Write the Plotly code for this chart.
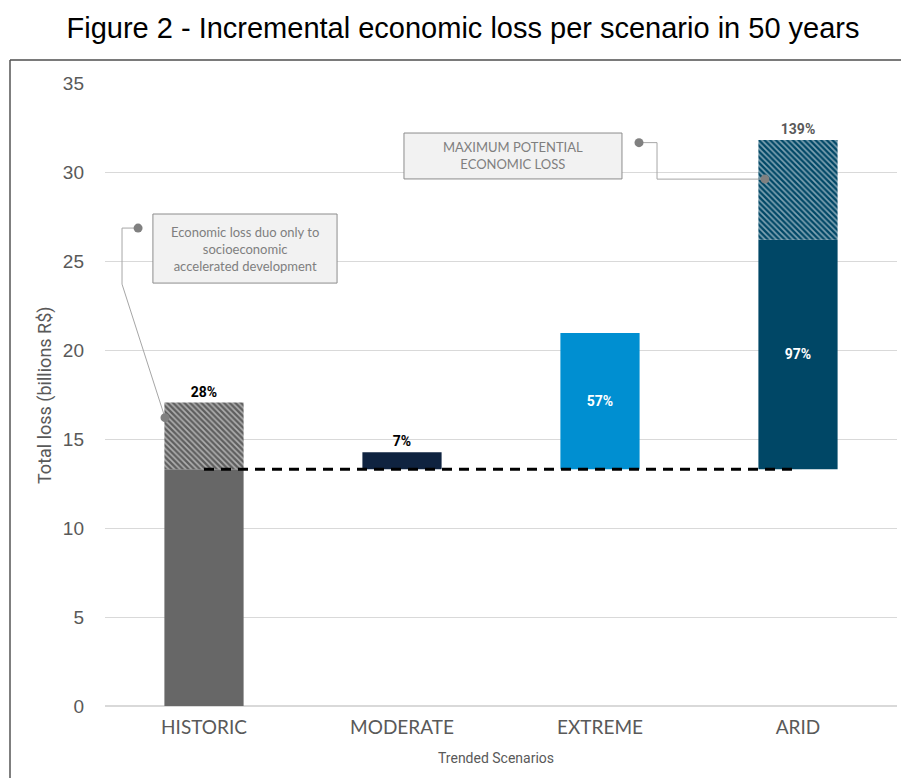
import plotly.graph_objects as go

# ---------------- data ----------------
categories = ["HISTORIC", "MODERATE", "EXTREME", "ARID"]
historic_loss = 13.3                       # baseline loss (billions R$)
scenario_tops = [17.05, 14.25, 20.95, 26.2]  # top of each scenario's main/incremental bar
arid_max = 31.8                            # maximum potential loss (ARID)
pct_labels = ["28%", "7%", "57%", "97%"]
arid_max_label = "139%"
y_ticks = [0, 5, 10, 15, 20, 25, 30, 35]

# ---------------- styling ----------------
W, H = 901, 778
L, R, T, B = 105, 4, 83, 72
GRAY_TXT = "#595959"
NARROW = "Liberation Sans Narrow, Arial Narrow, Roboto, Liberation Sans, sans-serif"
ARIAL = "Liberation Sans, Arial, sans-serif"
CAL = "Lato, Carlito, Calibri, sans-serif"

def px_x(p):
    return (p - L) / (W - L - R)

def px_y(p):
    return (H - B - p) / (H - T - B)

fig = go.Figure()

# main bars
solid_colors = ["#676767", "#0F2340", "#008FD1", "#004766"]
fig.add_trace(go.Bar(
    x=categories,
    base=[0, historic_loss, historic_loss, historic_loss],
    y=[historic_loss, scenario_tops[1] - historic_loss,
       scenario_tops[2] - historic_loss, scenario_tops[3] - historic_loss],
    width=0.4,
    marker=dict(color=solid_colors, line=dict(width=0)),
    text=["", "<b>" + pct_labels[1] + "</b>", "<b>" + pct_labels[2] + "</b>",
          "<b>" + pct_labels[3] + "</b>"],
    textposition=["none", "outside", "inside", "inside"],
    insidetextanchor="middle",
    outsidetextfont=dict(family=NARROW, size=14, color="black"),
    insidetextfont=dict(family=NARROW, size=14, color="white"),
    cliponaxis=False,
    hoverinfo="skip",
    showlegend=False,
))

# hatched bars
fig.add_trace(go.Bar(
    x=[categories[0], categories[3]],
    base=[historic_loss, scenario_tops[3]],
    y=[scenario_tops[0] - historic_loss, arid_max - scenario_tops[3]],
    width=0.4,
    marker=dict(color=["#5E5E5E", "#004766"], line=dict(width=0),
                pattern=dict(shape="\\", fgcolor="#FFFFFF", fillmode="overlay",
                             size=4, solidity=0.42)),
    text=["<b>" + pct_labels[0] + "</b>", "<b>" + arid_max_label + "</b>"],
    textposition="outside",
    outsidetextfont=dict(family=NARROW, size=14, color=["black", GRAY_TXT]),
    cliponaxis=False,
    hoverinfo="skip",
    showlegend=False,
))

# baseline dashed line
fig.add_trace(go.Scatter(
    x=[categories[0], categories[3]],
    y=[historic_loss, historic_loss],
    mode="lines",
    line=dict(color="black", width=3, dash="10px,7px"),
    hoverinfo="skip",
    showlegend=False,
))

shapes = []
annotations = []

# border (top and left)
shapes.append(dict(type="line", xref="paper", yref="paper",
                   x0=px_x(10), x1=px_x(905), y0=px_y(60), y1=px_y(60),
                   line=dict(color="#7A7A7A", width=2)))
shapes.append(dict(type="line", xref="paper", yref="paper",
                   x0=px_x(10), x1=px_x(10), y0=px_y(60), y1=px_y(782),
                   line=dict(color="#555555", width=1.5)))

# callout 1 (data coords: x category index, y value)
LINEC = "#A6A6A6"
DOTC = "#808080"
c1 = [(-0.333, 26.85), (-0.414, 26.85), (-0.414, 23.7), (-0.197, 16.2)]
for (xa, ya), (xb, yb) in zip(c1[:-1], c1[1:]):
    shapes.append(dict(type="line", xref="x", yref="y", x0=xa, y0=ya, x1=xb, y1=yb,
                       line=dict(color=LINEC, width=1)))
# callout 2
c2 = [(2.197, 31.65), (2.288, 31.65), (2.288, 29.6), (2.833, 29.6)]
for (xa, ya), (xb, yb) in zip(c2[:-1], c2[1:]):
    shapes.append(dict(type="line", xref="x", yref="y", x0=xa, y0=ya, x1=xb, y1=yb,
                       line=dict(color=LINEC, width=1)))

# callout boxes
shapes.append(dict(type="rect", xref="x", yref="y", x0=-0.258, x1=0.672, y0=23.76, y1=27.64,
                   fillcolor="#F2F2F2", line=dict(color="#8C8C8C", width=1)))
shapes.append(dict(type="rect", xref="x", yref="y", x0=1.01, x1=2.111, y0=29.61, y1=32.19,
                   fillcolor="#F2F2F2", line=dict(color="#8C8C8C", width=1)))

# callout end dots (pixel-sized circles anchored at data points)
for (xd, yd) in [c1[0], c1[-1], c2[0], c2[-1]]:
    shapes.append(dict(type="circle", xref="x", yref="y",
                       xsizemode="pixel", ysizemode="pixel",
                       xanchor=xd, yanchor=yd, x0=-4.5, x1=4.5, y0=-4.5, y1=4.5,
                       fillcolor=DOTC, line=dict(width=0)))

annotations.append(dict(xref="x", yref="y", x=0.207, y=25.7,
                        text="Economic loss duo only to<br>socioeconomic<br>accelerated development",
                        showarrow=False, font=dict(family=CAL, size=13, color="#7F7F7F"),
                        align="center", xanchor="center", yanchor="middle"))
annotations.append(dict(xref="x", yref="y", x=1.56, y=30.9,
                        text="MAXIMUM POTENTIAL<br>ECONOMIC LOSS",
                        showarrow=False, font=dict(family=CAL, size=13, color="#7F7F7F"),
                        align="center", xanchor="center", yanchor="middle"))

# axis titles
annotations.append(dict(xref="paper", yref="paper", x=px_x(45), y=px_y(395),
                        xanchor="center", yanchor="middle",
                        text="Total loss (billions R$)", textangle=-90, showarrow=False,
                        font=dict(family=NARROW, size=18, color=GRAY_TXT)))
annotations.append(dict(xref="paper", yref="paper", x=px_x(496), y=px_y(758),
                        xanchor="center", yanchor="middle",
                        text="Trended Scenarios", showarrow=False,
                        font=dict(family=NARROW, size=14, color=GRAY_TXT)))

fig.update_layout(
    width=W, height=H,
    margin=dict(l=L, r=R, t=T, b=B),
    paper_bgcolor="white", plot_bgcolor="white",
    barmode="overlay",
    bargap=0.6,
    title=dict(text="Figure 2 - Incremental economic loss per scenario in 50 years",
               x=463 / W, xanchor="center", y=1 - 28 / H, yanchor="middle",
               font=dict(family=ARIAL, size=29, color="black")),
    shapes=shapes,
    annotations=annotations,
    xaxis=dict(type="category", categoryorder="array", categoryarray=categories,
               range=[-0.5, 3.5], showgrid=False, showline=False, zeroline=False,
               ticks="", ticklabelstandoff=8,
               tickfont=dict(family=CAL, size=19, color=GRAY_TXT)),
    yaxis=dict(range=[0, 35], tickvals=y_ticks, showgrid=True, gridcolor="#D9D9D9",
               gridwidth=1, zeroline=True, zerolinecolor="#D9D9D9", zerolinewidth=2,
               showline=False, ticks="", ticklabelstandoff=20,
               tickfont=dict(family=ARIAL, size=19, color=GRAY_TXT)),
)

fig.write_html("out.html")
